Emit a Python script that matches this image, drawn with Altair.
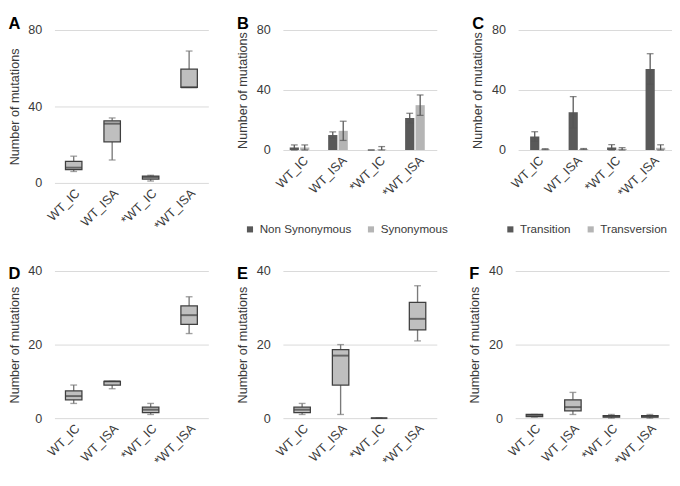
import altair as alt
import pandas as pd

groups = ["WT_IC", "WT_ISA", "*WT_IC", "*WT_ISA"]

# Panel A (box plots)
a_min = [6, 12, 1, 50]
a_q1 = [7, 21.5, 2, 50]
a_med = [8, 31, 3, 50]
a_q3 = [11.3, 32.5, 3.6, 59.5]
a_max = [14, 34, 4, 69]

# Panel B (bars, mean and error)
b_types = ["Non Synonymous", "Synonymous"]
b_ns = [1.7, 10, 0, 21.3]
b_ns_err = [1.7, 2.1, 0, 3.2]
b_syn = [1.7, 12.8, 0.4, 29.9]
b_syn_err = [1.7, 6.4, 1.9, 6.8]

# Panel C (bars, mean and error)
c_types = ["Transition", "Transversion"]
c_ts = [9, 25.2, 1.7, 54]
c_ts_err = [3.2, 10.4, 1.9, 10.2]
c_tv = [0.6, 0.7, 0.8, 1.5]
c_tv_err = [0.3, 0.3, 0.8, 2.0]

# Panel D
d_min = [4, 8, 1, 23]
d_q1 = [5, 9, 1.5, 25.5]
d_med = [6, 10, 2.3, 28]
d_q3 = [7.4, 10, 3, 30.5]
d_max = [9, 10, 4, 33]

# Panel E
e_min = [1, 1, 0, 21]
e_q1 = [1.5, 9, 0, 24]
e_med = [2.3, 17, 0, 27]
e_q3 = [3, 18.6, 0, 31.5]
e_max = [4, 20, 0, 36]

# Panel F
f_min = [0.3, 1, 0, 0]
f_q1 = [0.4, 2, 0.3, 0.3]
f_med = [0.7, 3, 0.5, 0.5]
f_q3 = [1, 5, 0.7, 0.7]
f_max = [1, 7, 1, 1]

FONT = "Liberation Sans"
TXT = "#3a3a3a"
GRID = "#d9d9d9"
BOXFILL = "#bfbfbf"
BOXSTROKE = "#3f3f3f"
WHISK = "#7a7a7a"
DARK = "#595959"
LIGHT = "#b5b5b5"
ERR = "#555555"
W = 159


def letter(t, off):
    return alt.TitleParams(text=t, anchor="start", frame="bounds", fontSize=17,
                           fontWeight="bold", font=FONT, color="#000000", offset=off)


def yax(vals):
    return alt.Axis(values=vals, title="Number of mutations", grid=True, gridColor=GRID,
                    domain=False, ticks=False, labelPadding=13, titlePadding=7)


def xenc(scale):
    return alt.X("group:N", sort=groups, title=None, scale=scale,
                 axis=alt.Axis(labelAngle=-45, domain=False, ticks=False, grid=False,
                               labelPadding=4))


def box_panel(t, mins, q1s, meds, q3s, maxs, top, vals, h, off):
    df = pd.DataFrame({"group": groups, "lo": mins, "q1": q1s, "med": meds,
                       "q3": q3s, "hi": maxs})
    sc = alt.Scale(paddingInner=0, paddingOuter=0)
    ysc = alt.Scale(domain=[0, top], nice=False)
    base = alt.Chart(df).encode(x=xenc(sc))
    ylo = alt.Y("lo:Q", scale=ysc, axis=yax(vals))
    w1 = base.mark_rule(color=WHISK, strokeWidth=1.4).encode(y=ylo, y2="q1:Q")
    w2 = base.mark_rule(color=WHISK, strokeWidth=1.4).encode(y=alt.Y("q3:Q", scale=ysc), y2="hi:Q")
    c1 = base.mark_tick(color=WHISK, size=7, thickness=1.4).encode(y=alt.Y("lo:Q", scale=ysc))
    c2 = base.mark_tick(color=WHISK, size=7, thickness=1.4).encode(y=alt.Y("hi:Q", scale=ysc))
    bx = base.mark_bar(size=17, fill=BOXFILL, stroke=BOXSTROKE, strokeWidth=1.3).encode(
        y=alt.Y("q1:Q", scale=ysc), y2="q3:Q")
    md = base.mark_tick(color=BOXSTROKE, size=17, thickness=2).encode(y=alt.Y("med:Q", scale=ysc))
    return alt.layer(w1, w2, c1, c2, bx, md).properties(width=W, height=h, title=letter(t, off))


def bar_panel(t, types, m1, e1, m2, e2, lx):
    means = m1 + m2
    errs = e1 + e2
    df = pd.DataFrame({
        "group": groups * 2,
        "type": [types[0]] * 4 + [types[1]] * 4,
        "mean": means,
        "lo": [max(0, m - e) for m, e in zip(means, errs)],
        "hi": [m + e for m, e in zip(means, errs)],
    })
    sc = alt.Scale(paddingInner=0.48, paddingOuter=0.24)
    ysc = alt.Scale(domain=[0, 80], nice=False)
    base = alt.Chart(df).encode(
        x=xenc(sc),
        xOffset=alt.XOffset("type:N", sort=types, scale=alt.Scale(paddingInner=0.17, paddingOuter=0)),
    )
    bars = base.mark_bar(size=9.5).encode(
        y=alt.Y("mean:Q", scale=ysc, axis=yax([0, 20, 40, 60, 80])),
        color=alt.Color("type:N", sort=types,
                        scale=alt.Scale(domain=types, range=[DARK, LIGHT]),
                        legend=alt.Legend(orient="none", legendX=lx, legendY=200,
                                          direction="horizontal", title=None,
                                          symbolType="square", symbolSize=40, symbolStrokeWidth=0,
                                          labelFontSize=12, labelFont=FONT, labelColor=TXT,
                                          columnPadding=14, labelOffset=4)),
    )
    er = base.mark_rule(color=ERR, strokeWidth=1.3).encode(y=alt.Y("lo:Q", scale=ysc), y2="hi:Q")
    cp1 = base.mark_tick(color=ERR, size=7, thickness=1.3).encode(y=alt.Y("hi:Q", scale=ysc))
    cp2 = base.mark_tick(color=ERR, size=7, thickness=1.3).encode(y=alt.Y("lo:Q", scale=ysc))
    return alt.layer(bars, er, cp1, cp2).properties(width=W, height=124, title=letter(t, -9))


A = box_panel("A", a_min, a_q1, a_med, a_q3, a_max, 80, [0, 20, 40, 60, 80], 158, -9)
B = bar_panel("B", b_types, b_ns, b_ns_err, b_syn, b_syn_err, -40)
C = bar_panel("C", c_types, c_ts, c_ts_err, c_tv, c_tv_err, -14)
D = box_panel("D", d_min, d_q1, d_med, d_q3, d_max, 40, [0, 10, 20, 30, 40], 152, -18)
E = box_panel("E", e_min, e_q1, e_med, e_q3, e_max, 40, [0, 10, 20, 30, 40], 152, -18)
F = box_panel("F", f_min, f_q1, f_med, f_q3, f_max, 40, [0, 10, 20, 30, 40], 152, -18)

row1 = alt.hconcat(A, alt.hconcat(B, C, spacing=24).resolve_scale(color="independent"),
                   spacing=29).resolve_scale(color="independent")
row2 = alt.hconcat(D, alt.hconcat(E, F, spacing=33), spacing=29)

chart = alt.vconcat(row1, row2, spacing=31).resolve_scale(color="independent").properties(
    padding=0
).configure_view(stroke=None).configure_axis(
    labelFont=FONT, labelFontSize=13, labelColor=TXT,
    titleFont=FONT, titleFontSize=13, titleColor=TXT, titleFontWeight="normal",
).configure_legend(labelFont=FONT)

chart.save("out.html", embed_options={"renderer": "svg", "actions": False})
